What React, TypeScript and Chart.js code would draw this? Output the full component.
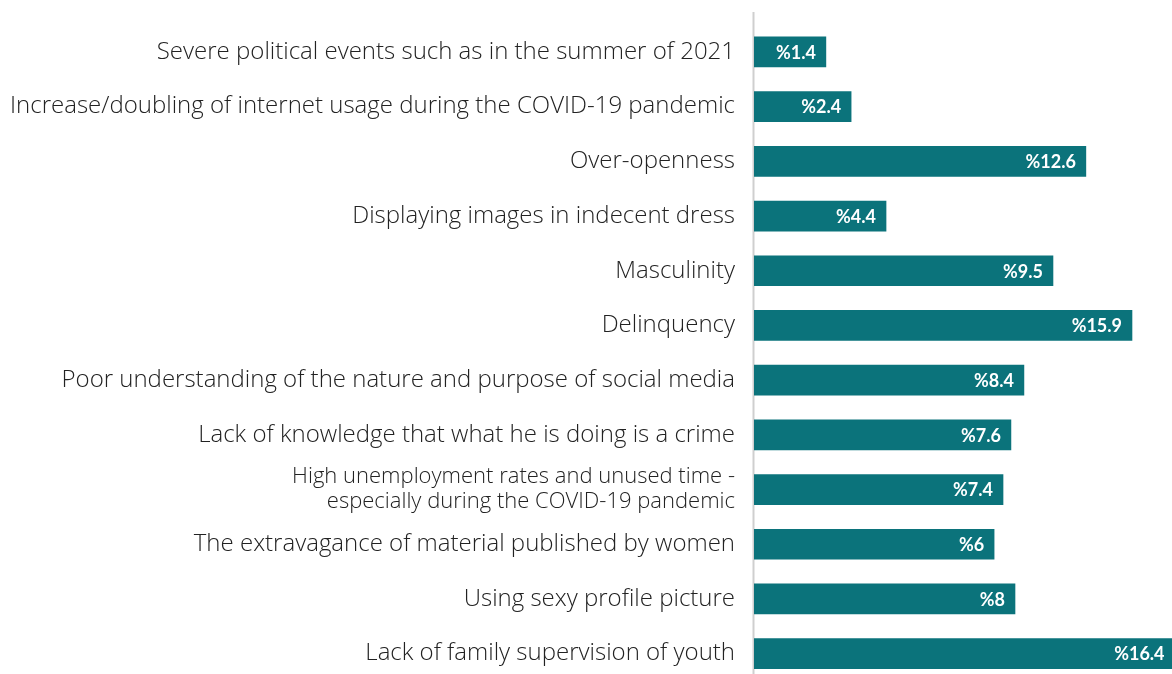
import React, { useEffect, useRef } from "react";
import { Chart, registerables } from "chart.js";

Chart.register(...registerables);

// Category labels (top to bottom)
const categories: (string | string[])[] = [
  "Severe political events such as in the summer of 2021",
  "Increase/doubling of internet usage during the COVID-19 pandemic",
  "Over-openness",
  "Displaying images in indecent dress",
  "Masculinity",
  "Delinquency",
  "Poor understanding of the nature and purpose of social media",
  "Lack of knowledge that what he is doing is a crime",
  ["High unemployment rates and unused time -", "especially during the COVID-19 pandemic"],
  "The extravagance of material published by women",
  "Using sexy profile picture",
  "Lack of family supervision of youth",
];

// Percentages printed on the bars
const shareLabels = [1.4, 2.4, 12.6, 4.4, 9.5, 15.9, 8.4, 7.6, 7.4, 6, 8, 16.4];

// Bar lengths as drawn in the reference (not proportional to the printed values)
const barLengths = [2.82, 3.81, 13.02, 5.18, 11.73, 14.83, 10.59, 10.08, 9.77, 9.42, 10.24, 16.5];

const axisMax = 16.4;

const BAR_COLOR = "#0b737b";
const TEXT_COLOR = "#222222";

const axisLinePlugin = {
  id: "axisLine",
  beforeDatasetsDraw(chart: any) {
    const ctx = chart.ctx;
    const x = chart.scales.y.right;
    ctx.save();
    ctx.strokeStyle = "#cfcfcf";
    ctx.lineWidth = 2;
    ctx.beginPath();
    ctx.moveTo(x - 0.5, 12);
    ctx.lineTo(x - 0.5, chart.height);
    ctx.stroke();
    ctx.restore();
  },
};

const valueLabelPlugin = {
  id: "valueLabels",
  afterDatasetsDraw(chart: any) {
    const ctx = chart.ctx;
    const meta = chart.getDatasetMeta(0);
    ctx.save();
    ctx.font = "bold 18px Lato";
    ctx.fillStyle = "#ffffff";
    ctx.textAlign = "right";
    ctx.textBaseline = "middle";
    meta.data.forEach((bar: any, i: number) => {
      ctx.fillText("%" + shareLabels[i], bar.x - 10, bar.y + 1);
    });
    ctx.restore();
  },
};

export default function App() {
  const canvasRef = useRef<HTMLCanvasElement | null>(null);

  useEffect(() => {
    if (!canvasRef.current) return;
    const chart = new Chart(canvasRef.current, {
      type: "bar",
      data: {
        labels: categories,
        datasets: [
          {
            data: barLengths,
            backgroundColor: BAR_COLOR,
            borderWidth: 0,
            barThickness: 30,
          },
        ],
      },
      options: {
        indexAxis: "y",
        responsive: false,
        animation: false,
        layout: { padding: { top: 24.6, bottom: 1, left: 0, right: 0 } },
        plugins: {
          legend: { display: false },
          tooltip: { enabled: false },
        },
        scales: {
          x: {
            display: false,
            min: 0,
            max: axisMax,
          },
          y: {
            grid: { display: false, drawTicks: false },
            border: { display: false },
            ticks: {
              color: TEXT_COLOR,
              padding: 19,
              font: (c: any) =>
                Array.isArray(categories[c.index])
                  ? { family: "'Open Sans'", size: 22, weight: 300, lineHeight: 1.14 }
                  : { family: "'Open Sans'", size: 24, weight: 300, lineHeight: 1.04 },
              autoSkip: false,
            },
            afterFit(scale: any) {
              scale.width = 754;
              scale.paddingTop = 0;
              scale.paddingBottom = 0;
            },
          },
        },
      },
      plugins: [axisLinePlugin, valueLabelPlugin],
    });
    return () => chart.destroy();
  }, []);

  return (
    <div
      style={{
        position: "fixed",
        left: 0,
        top: 0,
        width: 1172,
        height: 674,
        overflow: "hidden",
        background: "#ffffff",
      }}
    >
      <canvas ref={canvasRef} width={1172} height={682} style={{ display: "block" }} />
    </div>
  );
}
